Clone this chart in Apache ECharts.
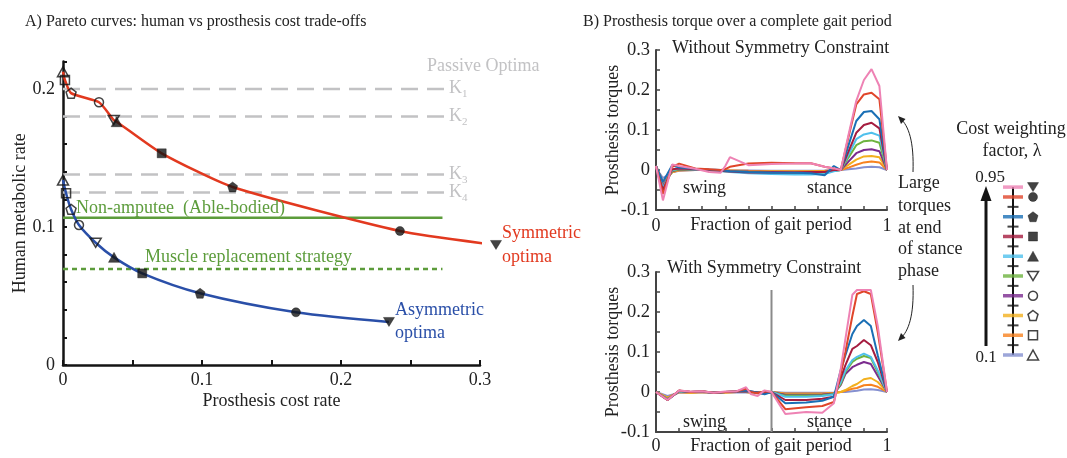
<!DOCTYPE html>
<html><head><meta charset="utf-8">
<script src="https://cdn.jsdelivr.net/npm/echarts@6/dist/echarts.min.js"></script>
<style>html,body{margin:0;padding:0;background:#fff}#c{width:1067px;height:458px}</style>
</head><body><div id="c"></div>
<script>
// ---------- DATA ----------
const lambdas = [0.1, 0.2, 0.3, 0.4, 0.5, 0.6, 0.7, 0.8, 0.9, 0.95];
const lambdaColors = ['#8590d0', '#f7821f', '#f2b01e', '#7b2b8e', '#6db33f', '#4fc0ec', '#a51c3f', '#1a6fb5', '#e0452a', '#ee82b4'];
const lambdaShapes = ['triangle', 'square', 'pentagon', 'circle', 'downTri', 'triangle', 'square', 'pentagon', 'circle', 'downTri'];
const lambdaFilled = [false, false, false, false, false, true, true, true, true, true];
const scaleTicks = [0.15, 0.25, 0.35, 0.45, 0.55, 0.65, 0.75, 0.85];

// Panel A: Pareto curves
const symCost = [0, 0.0014, 0.0058, 0.0259, 0.0365, 0.0386, 0.071, 0.122, 0.2424, 0.3115];
const symMet  = [0.2125, 0.2065, 0.197, 0.1904, 0.1775, 0.1763, 0.1534, 0.129, 0.0971, 0.087];
const asymCost = [0, 0.0022, 0.0058, 0.0115, 0.0235, 0.0367, 0.057, 0.0986, 0.1676, 0.2345];
const asymMet  = [0.134, 0.1244, 0.1128, 0.1014, 0.0886, 0.078, 0.0664, 0.052, 0.0382, 0.0312];
const passiveK = [0.2, 0.18, 0.138, 0.125];
const passiveNames = ['1', '2', '3', '4'];
const passiveEnd = 0.275;
const ableBodied = 0.1067;
const muscleReplacement = 0.0696;
const refEnd = 0.273;

// Panel B top: without symmetry constraint
const topX = [0, 0.03, 0.07, 0.1, 0.17, 0.23, 0.28, 0.3, 0.32, 0.4, 0.5, 0.6, 0.67, 0.73, 0.77, 0.8, 0.833, 0.867, 0.9, 0.933, 0.967, 1];
const top095 = [0.01, -0.076, 0.014, 0.01, 0.003, -0.005, -0.007, 0.01, 0.032, 0.012, 0.015, 0.016, 0.017, 0.008, 0.004, 0, 0.087, 0.173, 0.225, 0.252, 0.21, 0];
const top09  = [0.01, -0.06, 0.008, 0.016, 0.004, 0.002, 0.0, 0.002, 0.008, 0.016, 0.018, 0.017, 0.017, 0.008, 0.004, 0, 0.082, 0.164, 0.189, 0.193, 0.177, 0];
const top08  = [0.01, -0.03, 0.012, 0.006, 0.003, 0.001, 0, -0.002, -0.003, -0.005, -0.007, -0.007, -0.008, -0.013, 0.01, 0, 0.061, 0.1225, 0.145, 0.1475, 0.127, 0];
const top07  = [0.01, -0.05, 0.002, 0.004, 0.002, 0, -0.002, -0.003, -0.004, -0.006, -0.006, -0.006, -0.005, -0.005, 0.0, 0, 0.046, 0.093, 0.1125, 0.118, 0.104, 0];
const top06  = [0.01, -0.045, 0.0, 0.003, 0.001, 0, -0.003, -0.004, -0.005, -0.008, -0.01, -0.011, -0.011, -0.01, -0.003, 0, 0.038, 0.077, 0.089, 0.093, 0.086, 0];
const top05  = [0.01, -0.045, -0.002, 0.002, 0.001, 0, -0.002, -0.003, -0.004, -0.005, -0.007, -0.008, -0.008, -0.007, -0.002, 0, 0.031, 0.062, 0.072, 0.074, 0.068, 0];
const top04  = [0.01, -0.04, -0.003, 0.001, 0, 0, -0.002, -0.002, -0.003, -0.004, -0.005, -0.006, -0.006, -0.005, -0.002, 0, 0.021, 0.042, 0.05, 0.052, 0.047, 0];
const top03  = [0.01, -0.035, -0.005, 0, 0, 0, -0.001, -0.002, -0.002, -0.003, -0.004, -0.004, -0.004, -0.003, -0.001, 0, 0.013, 0.026, 0.034, 0.035, 0.032, 0];
const top02  = [0.01, -0.03, -0.006, -0.001, 0, 0, -0.001, -0.001, -0.001, -0.002, -0.003, -0.003, -0.003, -0.002, -0.001, 0, 0.006, 0.013, 0.019, 0.021, 0.019, 0];
const top01  = [0.005, -0.02, -0.006, -0.002, 0, 0, 0, 0, -0.001, -0.001, -0.002, -0.002, -0.002, -0.001, 0, 0, 0.002, 0.004, 0.007, 0.008, 0.007, 0];

// Panel B bottom: with symmetry constraint
const botX = [0, 0.05, 0.1, 0.15, 0.2, 0.25, 0.3, 0.35, 0.39, 0.41, 0.44, 0.47, 0.5, 0.56, 0.65, 0.72, 0.77, 0.8, 0.82, 0.85, 0.87, 0.9, 0.93, 0.96, 1.0];
const bot095 = [0, -0.02, 0.004, 0.001, 0.002, -0.002, 0.001, 0.002, 0.012, -0.005, -0.01, 0.004, 0, -0.055, -0.05, -0.052, -0.028, 0.059, 0.133, 0.243, 0.255, 0.255, 0.255, 0.165, 0];
const bot09  = [0, -0.02, 0.004, 0.0, 0.002, -0.002, 0.0, 0.002, 0.008, 0.0, -0.003, 0.002, 0, -0.043, -0.038, -0.035, -0.025, 0.046, 0.1, 0.19, 0.245, 0.252, 0.245, 0.15, 0];
const bot08  = [0, -0.02, 0.003, 0.0, 0.001, -0.002, 0.0, 0.002, 0.004, 0.002, -0.002, -0.006, 0, -0.028, -0.026, -0.022, -0.012, 0.055, 0.092, 0.145, 0.165, 0.18, 0.165, 0.092, 0];
const bot07  = [0, -0.02, 0.003, 0.0, 0.001, -0.002, 0.0, 0.001, 0.002, 0.001, -0.001, -0.003, 0, -0.02, -0.02, -0.017, -0.012, 0.035, 0.067, 0.108, 0.115, 0.13, 0.117, 0.075, 0];
const bot06  = [0, -0.019, 0.002, 0, 0.001, -0.002, 0, 0.001, 0.001, 0, -0.002, -0.004, 0, -0.012, -0.012, -0.01, -0.006, 0.025, 0.054, 0.08, 0.088, 0.096, 0.088, 0.054, 0];
const bot05  = [0, -0.018, 0.002, 0, 0.001, -0.001, 0, 0.001, 0.001, 0, -0.001, -0.002, 0, -0.009, -0.009, -0.008, -0.005, 0.02, 0.05, 0.075, 0.083, 0.09, 0.085, 0.05, 0];
const bot04  = [0, -0.018, 0.001, 0, 0, -0.001, 0, 0, 0.001, 0, -0.001, -0.002, 0, -0.007, -0.007, -0.006, -0.004, 0.018, 0.045, 0.062, 0.068, 0.075, 0.07, 0.04, 0];
const bot03  = [0, -0.015, 0, -0.002, 0, -0.002, -0.001, 0, 0, -0.002, -0.003, -0.004, 0, -0.005, -0.005, -0.005, -0.003, 0.0, 0.005, 0.015, 0.02, 0.032, 0.035, 0.025, 0];
const bot02  = [0, -0.014, 0, -0.002, 0, -0.001, -0.001, 0, 0, -0.001, -0.002, -0.003, 0, -0.004, -0.004, -0.004, -0.002, 0, 0.003, 0.008, 0.01, 0.017, 0.018, 0.013, 0];
const bot01  = [0, -0.01, -0.002, -0.002, -0.001, -0.001, -0.001, -0.001, -0.001, -0.001, -0.001, -0.001, 0, -0.002, -0.002, -0.002, -0.001, 0, 0, 0.002, 0.003, 0.006, 0.007, 0.005, 0];
const stanceStart = 0.5;
const stanceMarkerTop = 0.255;

const topSeries = [top01, top02, top03, top04, top05, top06, top07, top08, top09, top095];
const botSeries = [bot01, bot02, bot03, bot04, bot05, bot06, bot07, bot08, bot09, bot095];

// ---------- RENDER ----------
const FONT = '"Liberation Serif", "DejaVu Serif", serif';
const SHAPES = {
  triangle: 'triangle',
  square: 'rect',
  circle: 'circle',
  pentagon: 'path://M50,0L97.55,34.55L79.39,90.45L20.61,90.45L2.45,34.55Z',
  downTri: 'path://M0,0L100,0L50,86.6Z'
};
const SIZES = {triangle: [11, 10], square: 9, circle: 9, pentagon: 10, downTri: [11, 9]};

function markerItem(x, y, i) {
  const shape = lambdaShapes[i];
  return {
    value: [x, y],
    symbol: SHAPES[shape],
    symbolSize: SIZES[shape],
    itemStyle: lambdaFilled[i]
      ? {color: '#141414', borderColor: '#141414', borderWidth: 0.5}
      : {color: 'rgba(0,0,0,0)', borderColor: '#141414', borderWidth: 1.5}
  };
}
const zip = (xs, ys) => xs.map((x, i) => [x, ys[i]]);
const isMajor = (v, step) => Math.abs(v / step - Math.round(v / step)) < 1e-6;
const fmt = v => Math.abs(v) < 1e-9 ? '0' : v.toFixed(1);
const endsOnly = v => Math.abs(v) < 1e-9 ? '0' : (Math.abs(v - 1) < 1e-9 ? '1' : '');

const labelStyle = (size) => ({fontFamily: FONT, fontSize: size, color: '#222'});

const grids = [
  {left: 63, top: 61.4, width: 417, height: 303.6},
  {left: 656, top: 50, width: 231, height: 160},
  {left: 656, top: 272, width: 231, height: 160},
  {left: 993, top: 187.1, width: 40, height: 167.9}
].map(g => Object.assign({outerBoundsMode: 'none', containLabel: false}, g));

const xAxes = [
  {gridIndex: 0, type: 'value', min: 0, max: 0.3, interval: 0.05,
   name: 'Prosthesis cost rate', nameLocation: 'middle', nameGap: 27, nameMoveOverlap: false,
   nameTextStyle: labelStyle(18),
   axisLine: {onZero: false, lineStyle: {color: '#141414', width: 2.5}},
   axisTick: {inside: true, length: 5, lineStyle: {color: '#141414', width: 2}},
   axisLabel: Object.assign({margin: 6, formatter: v => isMajor(v, 0.1) ? fmt(v) : ''}, labelStyle(18)),
   splitLine: {show: false}},
  {gridIndex: 1, type: 'value', min: 0, max: 1, interval: 0.1,
   axisLine: {onZero: false, lineStyle: {color: '#444', width: 2}},
   axisTick: {inside: true, length: 4, lineStyle: {color: '#444', width: 1.5}},
   axisLabel: Object.assign({margin: 7, formatter: endsOnly}, labelStyle(18)),
   splitLine: {show: false}},
  {gridIndex: 2, type: 'value', min: 0, max: 1, interval: 0.1,
   axisLine: {onZero: false, lineStyle: {color: '#444', width: 2}},
   axisTick: {inside: true, length: 4, lineStyle: {color: '#444', width: 1.5}},
   axisLabel: Object.assign({margin: 5, formatter: endsOnly}, labelStyle(18)),
   splitLine: {show: false}},
  {gridIndex: 3, type: 'value', min: -1, max: 1, show: false}
];
const yAxes = [
  {gridIndex: 0, type: 'value', min: 0, max: 0.22, interval: 0.02,
   name: 'Human metabolic rate', nameLocation: 'middle', nameGap: 34, nameMoveOverlap: false,
   nameTextStyle: labelStyle(18),
   axisLine: {onZero: false, lineStyle: {color: '#141414', width: 2.5}},
   axisTick: {inside: true, length: 4, lineStyle: {color: '#141414', width: 2}},
   axisLabel: Object.assign({margin: 8, formatter: v => isMajor(v, 0.1) ? fmt(v) : ''}, labelStyle(18)),
   splitLine: {show: false}},
  {gridIndex: 1, type: 'value', min: -0.1, max: 0.3, interval: 0.05,
   name: 'Prosthesis torques', nameLocation: 'middle', nameGap: 34, nameMoveOverlap: false,
   nameTextStyle: labelStyle(18),
   axisLine: {onZero: false, lineStyle: {color: '#444', width: 2}},
   axisTick: {inside: true, length: 4, lineStyle: {color: '#444', width: 1.5}},
   axisLabel: Object.assign({margin: 6, formatter: v => isMajor(v, 0.1) ? fmt(v) : ''}, labelStyle(18.5)),
   splitLine: {show: false}},
  {gridIndex: 2, type: 'value', min: -0.1, max: 0.3, interval: 0.05,
   name: 'Prosthesis torques', nameLocation: 'middle', nameGap: 34, nameMoveOverlap: false,
   nameTextStyle: labelStyle(18),
   axisLine: {onZero: false, lineStyle: {color: '#444', width: 2}},
   axisTick: {inside: true, length: 4, lineStyle: {color: '#444', width: 1.5}},
   axisLabel: Object.assign({margin: 6, formatter: v => isMajor(v, 0.1) ? fmt(v) : ''}, labelStyle(18.5)),
   splitLine: {show: false}},
  {gridIndex: 3, type: 'value', min: 0.1, max: 0.95, show: false}
];

const series = [];
const RED = '#e2391f', BLUE = '#2a4fa8', GREEN = '#5c9c3b', GRAY = '#c2c2c4';

// Panel A reference lines
passiveK.forEach(k => series.push({
  type: 'line', xAxisIndex: 0, yAxisIndex: 0, data: [[0, k], [passiveEnd, k]],
  symbol: 'none', silent: true, z: 1,
  lineStyle: {color: GRAY, width: 2.5, type: [17, 9]}
}));
series.push({type: 'line', xAxisIndex: 0, yAxisIndex: 0, data: [[0, ableBodied], [refEnd, ableBodied]],
  symbol: 'none', z: 2, lineStyle: {color: GREEN, width: 2.5}});
series.push({type: 'line', xAxisIndex: 0, yAxisIndex: 0, data: [[0, muscleReplacement], [refEnd, muscleReplacement]],
  symbol: 'none', z: 2, lineStyle: {color: GREEN, width: 2.5, type: [5, 4]}});
// Pareto curves
series.push({type: 'line', xAxisIndex: 0, yAxisIndex: 0, data: zip(symCost, symMet), clip: false,
  symbol: 'none', smooth: 0.2, z: 3, lineStyle: {color: RED, width: 2.5}});
series.push({type: 'line', xAxisIndex: 0, yAxisIndex: 0, data: zip(asymCost, asymMet), clip: false,
  symbol: 'none', smooth: 0.3, z: 3, lineStyle: {color: BLUE, width: 2.5}});
series.push({type: 'scatter', xAxisIndex: 0, yAxisIndex: 0, clip: false, z: 5,
  data: symCost.map((c, i) => markerItem(c, symMet[i], i))});
series.push({type: 'scatter', xAxisIndex: 0, yAxisIndex: 0, clip: false, z: 5,
  data: asymCost.map((c, i) => markerItem(c, asymMet[i], i))});

// Panel B torque curves
topSeries.forEach((arr, i) => series.push({
  type: 'line', xAxisIndex: 1, yAxisIndex: 1, data: zip(topX, arr), symbol: 'none',
  z: 2 + i * 0.01, lineStyle: {color: lambdaColors[i], width: 2}
}));
series.push({type: 'line', xAxisIndex: 2, yAxisIndex: 2, data: [[stanceStart, -0.1], [stanceStart, stanceMarkerTop]],
  symbol: 'none', z: 1, lineStyle: {color: '#8a8a8a', width: 2}});
botSeries.forEach((arr, i) => series.push({
  type: 'line', xAxisIndex: 2, yAxisIndex: 2, data: zip(botX, arr), symbol: 'none',
  z: 2 + i * 0.01, lineStyle: {color: lambdaColors[i], width: 2}
}));

// Cost weighting scale
series.push({type: 'line', xAxisIndex: 3, yAxisIndex: 3, data: [[0, lambdas[0]], [0, lambdas[lambdas.length - 1]]],
  symbol: 'none', z: 2, lineStyle: {color: '#141414', width: 2}});
series.push({type: 'scatter', xAxisIndex: 3, yAxisIndex: 3, z: 3,
  data: scaleTicks.map(t => [0, t]), symbol: 'rect', symbolSize: [11, 2], itemStyle: {color: '#141414'}});
series.push({type: 'scatter', xAxisIndex: 3, yAxisIndex: 3, z: 4,
  data: lambdas.map((l, i) => ({value: [0, l], itemStyle: {color: lambdaColors[i]}})),
  symbol: 'rect', symbolSize: [20, 3.5]});
series.push({type: 'scatter', xAxisIndex: 3, yAxisIndex: 3, z: 4,
  data: lambdas.map((l, i) => markerItem(1, l, i))});

// Text & annotations
const txt = (text, x, y, o) => ({type: 'text', z: 100, silent: true,
  style: Object.assign({text, x, y, fontFamily: FONT, fontSize: 18, fill: '#222', align: 'left', verticalAlign: 'middle'}, o || {})});
const graphics = [
  txt('A) Pareto curves: human vs prosthesis cost trade-offs', 25, 22, {fontSize: 16}),
  txt('B) Prosthesis torque over a complete gait period', 583, 22, {fontSize: 16}),
  txt('Passive Optima', 427, 66, {fill: GRAY}),
  txt('Non-amputee  (Able-bodied)', 76, 208, {fill: GREEN}),
  txt('Muscle replacement strategy', 145, 257, {fill: GREEN}),
  txt('Symmetric', 502, 233, {fill: RED}),
  txt('optima', 502, 257, {fill: RED}),
  txt('Asymmetric', 395, 310, {fill: BLUE}),
  txt('optima', 395, 333, {fill: BLUE}),
  txt('Without Symmetry Constraint', 672, 48),
  txt('With Symmetry Constraint', 667, 268),
  txt('swing', 683, 188),
  txt('stance', 807, 188),
  txt('swing', 683, 422),
  txt('stance', 807, 422),
  txt('Fraction of gait period', 771, 225, {align: 'center'}),
  txt('Fraction of gait period', 771, 446, {align: 'center'}),
  txt('Large', 898, 183),
  txt('torques', 898, 206),
  txt('at end', 898, 228),
  txt('of stance', 898, 249),
  txt('phase', 898, 271),
  txt('Cost weighting', 1011, 129, {align: 'center'}),
  txt('factor, λ', 1012, 151, {align: 'center'}),
  txt('0.95', 990, 178, {fontSize: 17, align: 'center'}),
  txt('0.1', 986, 358, {fontSize: 17, align: 'center'}),
  // arrows
  {type: 'bezierCurve', silent: true, z: 50, shape: {x1: 913, y1: 172, cpx1: 914, cpy1: 142, cpx2: 909, cpy2: 126, x2: 900, y2: 118},
   style: {stroke: '#222', lineWidth: 1, fill: null}},
  {type: 'polygon', silent: true, z: 50, shape: {points: [[898, 116], [905.5, 119], [901, 124]]}, style: {fill: '#222'}},
  {type: 'bezierCurve', silent: true, z: 50, shape: {x1: 913, y1: 285, cpx1: 914, cpy1: 315, cpx2: 909, cpy2: 331, x2: 900, y2: 339},
   style: {stroke: '#222', lineWidth: 1, fill: null}},
  {type: 'polygon', silent: true, z: 50, shape: {points: [[898, 341], [905.5, 338], [901, 333]]}, style: {fill: '#222'}},
  {type: 'line', silent: true, z: 50, shape: {x1: 986, y1: 346, x2: 986, y2: 198}, style: {stroke: '#141414', lineWidth: 3}},
  {type: 'polygon', silent: true, z: 50, shape: {points: [[986, 186], [980.5, 201], [991.5, 201]]}, style: {fill: '#141414'}}
];
// K labels with subscripts
const kY = [88, 116, 174, 192];
passiveNames.forEach((n, i) => {
  graphics.push(txt('K', 449, kY[i], {fill: GRAY}));
  graphics.push(txt(n, 462, kY[i] + 6, {fill: GRAY, fontSize: 11}));
});

const chart = echarts.init(document.getElementById('c'), null, {renderer: 'canvas'});
chart.setOption({
  animation: false,
  backgroundColor: '#fff',
  textStyle: {fontFamily: FONT},
  grid: grids, xAxis: xAxes, yAxis: yAxes, series, graphic: graphics
});
</script>
</body></html>
